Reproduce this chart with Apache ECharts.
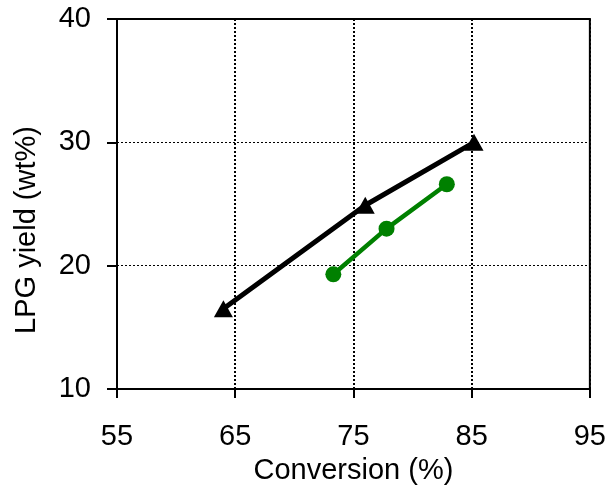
<!DOCTYPE html>
<html>
<head>
<meta charset="utf-8">
<script src="https://cdn.jsdelivr.net/npm/echarts@6/dist/echarts.min.js"></script>
<style>html,body{margin:0;padding:0;background:#fff}#c{width:609px;height:493px}</style>
</head>
<body>
<div id="c"></div>
<script>
var seriesANames = 'Series A';
var seriesAX = [64.0, 76.0, 85.2];
var seriesAY = [16.5, 24.9, 30.0];
var seriesBX = [73.3, 77.8, 82.9];
var seriesBY = [19.3, 23.0, 26.6];
var xTicks = [55, 65, 75, 85, 95];
var yTicks = [10, 20, 30, 40];
var xName = 'Conversion (%)';
var yName = 'LPG yield (wt%)';

function pairs(xs, ys) { return xs.map(function (x, i) { return [x, ys[i]]; }); }

var font = '"Liberation Sans", Arial, sans-serif';
var fs = 29;
var chart = echarts.init(document.getElementById('c'));
chart.setOption({
  animation: false,
  backgroundColor: '#fff',
  grid: { left: 117, right: 18, top: 19, bottom: 104, show: true, borderColor: '#000', borderWidth: 2, backgroundColor: 'transparent' },
  xAxis: {
    type: 'value', min: xTicks[0], max: xTicks[xTicks.length - 1], interval: 10,
    name: xName, nameLocation: 'middle', nameGap: 67,
    nameTextStyle: { fontFamily: font, fontSize: fs, color: '#000' },
    axisLine: { lineStyle: { color: '#000', width: 2 } },
    axisTick: { show: true, length: 9, lineStyle: { color: '#000', width: 2 } },
    axisLabel: { fontFamily: font, fontSize: fs, color: '#000', margin: 33 },
    splitLine: { show: true, lineStyle: { color: '#000', width: 2, type: [2, 2] } }
  },
  yAxis: {
    type: 'value', min: yTicks[0], max: yTicks[yTicks.length - 1], interval: 10,
    name: yName, nameLocation: 'middle', nameGap: 76,
    nameTextStyle: { fontFamily: font, fontSize: fs, color: '#000', padding: [0, 52, 0, 0] },
    axisLine: { show: true, lineStyle: { color: '#000', width: 2 } },
    axisTick: { show: true, length: 10, lineStyle: { color: '#000', width: 2 } },
    axisLabel: { fontFamily: font, fontSize: fs, color: '#000', margin: 26 },
    splitLine: { show: true, lineStyle: { color: '#000', width: 1, type: [2, 2] } }
  },
  series: [
    {
      type: 'line', name: seriesANames, data: pairs(seriesAX, seriesAY),
      symbol: 'triangle', symbolSize: [19, 17],
      lineStyle: { color: '#000', width: 5 },
      itemStyle: { color: '#000' }, z: 3
    },
    {
      type: 'line', name: 'Series B', data: pairs(seriesBX, seriesBY),
      symbol: 'circle', symbolSize: 16,
      lineStyle: { color: '#008000', width: 4.5 },
      itemStyle: { color: '#008000' }, z: 4
    }
  ]
});
</script>
</body>
</html>
